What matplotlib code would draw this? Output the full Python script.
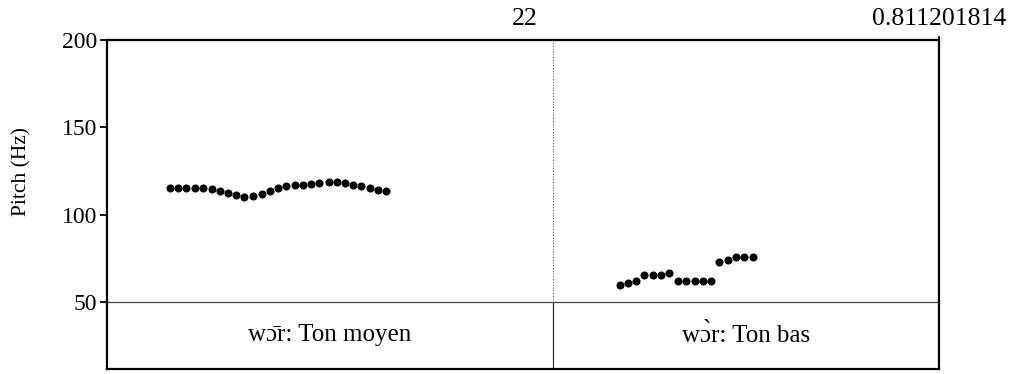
import matplotlib
matplotlib.use("Agg")
import matplotlib.pyplot as plt

plt.rcParams['font.family'] = ['Liberation Serif', 'DejaVu Serif']

# Pitch track, first syllable (time in s, F0 in Hz)
t_moyen = [0.061, 0.069, 0.077, 0.086, 0.094, 0.102, 0.110, 0.118, 0.126,
           0.134, 0.142, 0.151, 0.159, 0.167, 0.175, 0.183, 0.191, 0.199,
           0.207, 0.216, 0.224, 0.232, 0.240, 0.248, 0.256, 0.264, 0.272]
f0_moyen = [115.3, 115.3, 115.3, 115.3, 115.3, 114.9, 113.8, 112.5, 111.2,
            110.4, 110.8, 112.1, 113.8, 115.3, 116.6, 117.2, 117.2, 117.6,
            118.3, 118.7, 118.7, 118.1, 117.2, 116.2, 115.3, 114.4, 113.4]

# Pitch track, second syllable
t_bas = [0.500, 0.508, 0.516, 0.524, 0.532, 0.540, 0.548, 0.557, 0.565,
         0.573, 0.581, 0.589, 0.597, 0.605, 0.613, 0.621, 0.630]
f0_bas = [59.7, 60.7, 62.3, 65.2, 65.2, 65.2, 66.4, 62.0, 62.0,
          62.0, 62.0, 62.0, 72.9, 74.3, 75.9, 75.8, 75.6]

# Text grid tier
t_start = 0.0
t_end = 0.811201814
boundaries = [0.4349]
interval_labels = ["w\u0254\u0304r: Ton moyen", "w\u0254\u0300r: Ton bas"]
top_labels = ["22", "0.811201814"]
top_label_times = [0.4076, 0.811201814]

y_ticks = [50, 100, 150, 200]
y_min, y_max = 50, 200

W, H = 1015, 374
fig = plt.figure(figsize=(W / 100, H / 100), dpi=100)

L, R = 107 / W, 939 / W
tier = fig.add_axes([L, (H - 369) / H, R - L, (369 - 302) / H])
ax = fig.add_axes([L, (H - 302) / H, R - L, (302 - 40) / H])
ax.patch.set_visible(False)

FS = 17

# --- pitch panel ---
ax.plot(t_moyen, f0_moyen, 'o', color='black', markersize=5.8, markeredgewidth=0)
ax.plot(t_bas, f0_bas, 'o', color='black', markersize=5.8, markeredgewidth=0)
for b in boundaries:
    ax.axvline(b, color='#555555', lw=0.8, ls=(0, (1, 1.5)))
ax.set_xlim(t_start, t_end)
ax.set_ylim(y_min, y_max)
ax.set_yticks(y_ticks)
ax.set_yticklabels([str(v) for v in y_ticks], fontsize=FS)
ax.tick_params(axis='y', direction='out', length=5, width=1.3, pad=2)
ax.xaxis.tick_top()
ax.set_xticks([t_end])
ax.set_xticklabels([''])
ax.tick_params(axis='x', direction='out', length=3, width=1.3)
for side in ['left', 'top', 'right']:
    ax.spines[side].set_linewidth(1.6)
ax.spines['bottom'].set_visible(False)

fig.text(21.5 / W, 1 - 171 / H, 'Pitch (Hz)', rotation=90,
         ha='center', va='center', fontsize=15.5)

for lab, tt in zip(top_labels, top_label_times):
    ax.text(tt, 1.0 + 21 / 262, lab, transform=ax.get_xaxis_transform(),
            ha='center', va='center', fontsize=18.5)

# --- tier panel ---
tier.set_xlim(t_start, t_end)
tier.set_ylim(0, 1)
tier.set_xticks([])
tier.set_yticks([])
for b in boundaries:
    tier.axvline(b, color='#333333', lw=0.9)
edges = [t_start] + boundaries + [t_end]
for lab, a, b in zip(interval_labels, edges[:-1], edges[1:]):
    tier.text((a + b) / 2, 0.5, lab, ha='center', va='center', fontsize=18)
tier.spines['top'].set_linewidth(0.9)
tier.spines['top'].set_color('#444444')
for side in ['left', 'right', 'bottom']:
    tier.spines[side].set_linewidth(1.6)

fig.savefig('out.png', dpi=100)
